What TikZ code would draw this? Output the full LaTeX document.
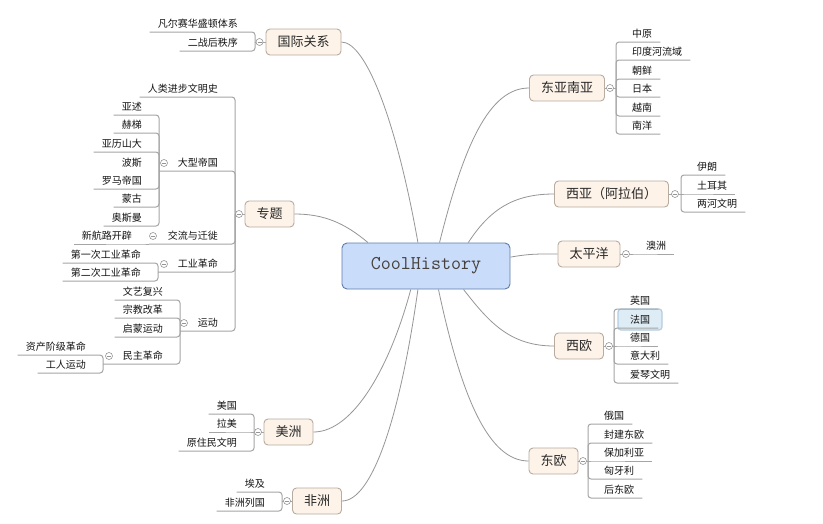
\documentclass[tikz,border=0pt]{standalone}
\usepackage{fontspec}
\newfontfamily\cjk{Noto Sans CJK SC}
\definecolor{rootfill}{RGB}{201,220,250}
\definecolor{rootline}{RGB}{96,125,170}
\definecolor{roottext}{RGB}{70,65,60}
\definecolor{topicfill}{RGB}{253,243,233}
\definecolor{topicline}{RGB}{184,172,160}
\definecolor{topictext}{RGB}{40,40,40}
\definecolor{leaftext}{RGB}{20,20,20}
\definecolor{brline}{RGB}{165,165,165}
\definecolor{cvline}{RGB}{150,150,150}
\definecolor{foldline}{RGB}{150,150,150}
\definecolor{selfill}{RGB}{222,236,245}
\definecolor{selline}{RGB}{180,205,225}
\begin{document}
\begin{tikzpicture}[x=1pt, y=1pt,
  rootbox/.style={draw=rootline, fill=rootfill, rounded corners=5pt, line width=0.9pt, minimum width=168pt, minimum height=46pt, text=roottext, font=\ttfamily\fontsize{19.5}{20}\selectfont},
  topic/.style={draw=topicline, fill=topicfill, rounded corners=4pt, line width=0.9pt, minimum height=26pt, inner xsep=11.5pt, inner ysep=0pt, text=topictext, font=\cjk\fontsize{13}{14}\selectfont},
  leaf/.style={minimum height=17pt, inner xsep=8pt, inner ysep=0pt, text=leaftext, font=\cjk\fontsize{10}{11}\selectfont},
  lleaf/.style={leaf, anchor=south east},
  rleaf/.style={leaf, anchor=south west},
  fold/.style={circle, draw=foldline, fill=white, line width=0.6pt, minimum size=7pt, inner sep=0pt, path picture={\draw[foldline, line width=0.6pt] ([xshift=-2pt]path picture bounding box.center) -- ([xshift=2pt]path picture bounding box.center);}},
  br/.style={draw=brline, line width=1pt, rounded corners=3pt},
  cv/.style={draw=cvline, line width=0.8pt},
  sel/.style={draw=selline, fill=selfill, line width=1.2pt, rounded corners=3pt}]
\path[use as bounding box, fill=white] (0,0) rectangle (823,-523);
\node[rootbox] (tid0) at (426,-266) {CoolHistory};
\node[topic] (tid1) at (303.5,-42) {国际关系};
\draw[cv] (tid0.109.2) .. controls +(100:120) and +(25,0) .. (tid1.east);
\coordinate (jid1) at (255,-42);
\draw[br] (tid1.west) -- (jid1);
\node[lleaf] (tid10) at (246,-32) {凡尔赛华盛顿体系};
\node[lleaf] (tid11) at (246,-51) {二战后秩序};
\draw[br] (jid1) |- (tid10.south east) -- (tid10.south west);
\draw[br] (jid1) |- (tid11.south east) -- (tid11.south west);
\node[fold] (cid1) at (259.5,-42) {};
\node[topic] (tid2) at (269.5,-214) {专题};
\draw[cv] (tid0.158) .. controls +(140:30) and +(30,0) .. (tid2.east);
\coordinate (jid2) at (235,-214);
\draw[br] (tid2.west) -- (jid2);
\node[lleaf] (tid12) at (226,-97) {人类进步文明史};
\node[lleaf] (tid13) at (226,-171) {大型帝国};
\node[lleaf] (tid14) at (226,-244) {交流与迁徙};
\node[lleaf] (tid15) at (226,-272) {工业革命};
\node[lleaf] (tid16) at (226,-331) {运动};
\coordinate (jid3) at (159,-171);
\coordinate (jid4) at (149,-244);
\coordinate (jid5) at (158,-272);
\coordinate (jid6) at (180,-331);
\draw[br] (jid2) |- (tid12.south east) -- (tid12.south west);
\draw[br] (jid2) |- (tid13.south east) -- (jid3);
\draw[br] (jid2) |- (tid14.south east) -- (jid4);
\draw[br] (jid2) |- (tid15.south east) -- (jid5);
\draw[br] (jid2) |- (tid16.south east) -- (jid6);
\node[fold] (cid2) at (239,-214) {};
\node[lleaf] (tid17) at (150,-115) {亚述};
\node[lleaf] (tid18) at (150,-133) {赫梯};
\node[lleaf] (tid19) at (150,-152) {亚历山大};
\node[lleaf] (tid20) at (150,-171) {波斯};
\node[lleaf] (tid21) at (150,-189) {罗马帝国};
\node[lleaf] (tid22) at (150,-207) {蒙古};
\node[lleaf] (tid23) at (150,-226) {奥斯曼};
\draw[br] (jid3) |- (tid17.south east) -- (tid17.south west);
\draw[br] (jid3) |- (tid18.south east) -- (tid18.south west);
\draw[br] (jid3) |- (tid19.south east) -- (tid19.south west);
\draw[br] (jid3) |- (tid21.south east) -- (tid21.south west);
\draw[br] (jid3) |- (tid22.south east) -- (tid22.south west);
\draw[br] (jid3) |- (tid23.south east) -- (tid23.south west);
\node[fold] (cid3) at (164,-163) {};
\node[lleaf] (tid24) at (140,-244) {新航路开辟};
\draw[br] (jid4) -- (tid24.south east) -- (tid24.south west);
\node[fold] (cid4) at (153,-236) {};
\node[lleaf] (tid25) at (149,-263) {第一次工业革命};
\node[lleaf] (tid26) at (149,-281) {第二次工业革命};
\draw[br] (jid5) |- (tid25.south east) -- (tid25.south west);
\draw[br] (jid5) |- (tid26.south east) -- (tid26.south west);
\node[fold] (cid5) at (164,-264) {};
\node[lleaf] (tid27) at (171,-300) {文艺复兴};
\node[lleaf] (tid28) at (171,-318) {宗教改革};
\node[lleaf] (tid29) at (171,-337) {启蒙运动};
\node[lleaf] (tid30) at (171,-364) {民主革命};
\coordinate (jid7) at (103,-364);
\draw[br] (jid6) |- (tid27.south east) -- (tid27.south west);
\draw[br] (jid6) |- (tid28.south east) -- (tid28.south west);
\draw[br] (jid6) |- (tid29.south east) -- (tid29.south west);
\draw[br] (jid6) |- (tid30.south east) -- (jid7);
\node[fold] (cid6) at (184,-323) {};
\node[lleaf] (tid31) at (94,-355) {资产阶级革命};
\node[lleaf] (tid32) at (94,-373) {工人运动};
\draw[br] (jid7) |- (tid31.south east) -- (tid31.south west);
\draw[br] (jid7) |- (tid32.south east) -- (tid32.south west);
\node[fold] (cid7) at (109,-356) {};
\node[topic] (tid3) at (567,-88) {东亚南亚};
\draw[cv] (tid0.60.5) .. controls +(76:100) and +(-40,0) .. (tid3.west);
\coordinate (jid8) at (616,-88);
\draw[br] (tid3.east) -- (jid8);
\node[rleaf] (tid33) at (624,-42) {中原};
\node[rleaf] (tid34) at (624,-60) {印度河流域};
\node[rleaf] (tid35) at (624,-79) {朝鲜};
\node[rleaf] (tid36) at (624,-97) {日本};
\node[rleaf] (tid37) at (624,-116) {越南};
\node[rleaf] (tid38) at (624,-134) {南洋};
\draw[br] (jid8) |- (tid33.south west) -- (tid33.south east);
\draw[br] (jid8) |- (tid34.south west) -- (tid34.south east);
\draw[br] (jid8) |- (tid35.south west) -- (tid35.south east);
\draw[br] (jid8) |- (tid36.south west) -- (tid36.south east);
\draw[br] (jid8) |- (tid37.south west) -- (tid37.south east);
\draw[br] (jid8) |- (tid38.south west) -- (tid38.south east);
\node[fold] (cid8) at (610,-88) {};
\node[topic] (tid4) at (611.5,-194) {西亚（阿拉伯）};
\draw[cv] (tid0.29.9) .. controls +(57:40) and +(-40,0) .. (tid4.west);
\coordinate (jid9) at (681,-194);
\draw[br] (tid4.east) -- (jid9);
\node[rleaf] (tid39) at (689,-175) {伊朗};
\node[rleaf] (tid40) at (689,-194) {土耳其};
\node[rleaf] (tid41) at (689,-212) {两河文明};
\draw[br] (jid9) |- (tid39.south west) -- (tid39.south east);
\draw[br] (jid9) -- (tid40.south west) -- (tid40.south east);
\draw[br] (jid9) |- (tid41.south west) -- (tid41.south east);
\node[fold] (cid9) at (675,-194) {};
\node[topic] (tid5) at (589,-254) {太平洋};
\draw[cv] (tid0.6) .. controls +(10:20) and +(-20,0) .. (tid5.west);
\coordinate (jid10) at (631,-254);
\draw[br] (tid5.east) -- (jid10);
\node[rleaf] (tid42) at (638,-254) {澳洲};
\draw[br] (jid10) -- (tid42.south west) -- (tid42.south east);
\node[fold] (cid10) at (626,-254) {};
\node[topic] (tid6) at (579,-346) {西欧};
\draw[cv] (tid0.-32.6) .. controls +(-52:40) and +(-45,0) .. (tid6.west);
\coordinate (jid11) at (614,-346);
\draw[br] (tid6.east) -- (jid11);
\node[rleaf] (tid43) at (622,-309) {英国};
\draw[sel] (618,-309) rectangle (662,-330);
\node[rleaf] (tid44) at (622,-328) {法国};
\node[rleaf] (tid45) at (622,-346) {德国};
\node[rleaf] (tid46) at (622,-364) {意大利};
\node[rleaf] (tid47) at (622,-383) {爱琴文明};
\draw[br] (jid11) |- (tid43.south west) -- (tid43.south east);
\draw[br] (jid11) |- (tid44.south west) -- (tid44.south east);
\draw[br] (jid11) -- (tid45.south west) -- (tid45.south east);
\draw[br] (jid11) |- (tid46.south west) -- (tid46.south east);
\draw[br] (jid11) |- (tid47.south west) -- (tid47.south east);
\node[fold] (cid11) at (609,-346) {};
\node[topic] (tid7) at (553.5,-461) {东欧};
\draw[cv] (tid0.-62.4) .. controls +(-78:110) and +(-40,0) .. (tid7.west);
\coordinate (jid12) at (588,-461);
\draw[br] (tid7.east) -- (jid12);
\node[rleaf] (tid48) at (596,-424) {俄国};
\node[rleaf] (tid49) at (596,-443) {封建东欧};
\node[rleaf] (tid50) at (596,-461) {保加利亚};
\node[rleaf] (tid51) at (596,-479) {匈牙利};
\node[rleaf] (tid52) at (596,-498) {后东欧};
\draw[br] (jid12) |- (tid48.south west) -- (tid48.south east);
\draw[br] (jid12) |- (tid49.south west) -- (tid49.south east);
\draw[br] (jid12) -- (tid50.south west) -- (tid50.south east);
\draw[br] (jid12) |- (tid51.south west) -- (tid51.south east);
\draw[br] (jid12) |- (tid52.south west) -- (tid52.south east);
\node[fold] (cid12) at (583,-461) {};
\node[topic] (tid8) at (288.5,-432) {美洲};
\draw[cv] (tid0.-123.1) .. controls +(-105:80) and +(40,0) .. (tid8.east);
\coordinate (jid13) at (254,-432);
\draw[br] (tid8.west) -- (jid13);
\node[lleaf] (tid53) at (245,-414) {美国};
\node[lleaf] (tid54) at (245,-432) {拉美};
\node[lleaf] (tid55) at (245,-451) {原住民文明};
\draw[br] (jid13) |- (tid53.south east) -- (tid53.south west);
\draw[br] (jid13) -- (tid54.south east) -- (tid54.south west);
\draw[br] (jid13) |- (tid55.south east) -- (tid55.south west);
\node[fold] (cid13) at (258,-432) {};
\node[topic] (tid9) at (317,-501) {非洲};
\draw[cv] (tid0.-109.2) .. controls +(-98:130) and +(30,0) .. (tid9.east);
\coordinate (jid14) at (282,-501);
\draw[br] (tid9.west) -- (jid14);
\node[lleaf] (tid56) at (273,-492) {埃及};
\node[lleaf] (tid57) at (273,-511) {非洲列国};
\draw[br] (jid14) |- (tid56.south east) -- (tid56.south west);
\draw[br] (jid14) |- (tid57.south east) -- (tid57.south west);
\node[fold] (cid14) at (287,-501) {};
\end{tikzpicture}
\end{document}
